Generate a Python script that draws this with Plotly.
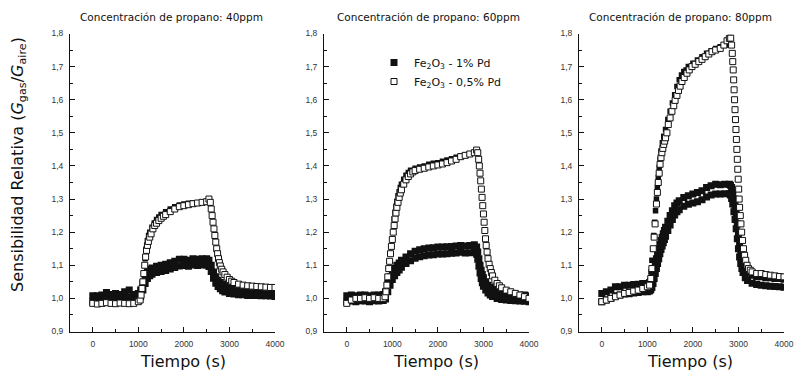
import plotly.graph_objects as go

# ---------------- data ----------------
# Panel 1: 40 ppm
t1_fill = [0,100,200,300,400,500,600,700,800,900,1000,1050,1100,1150,1200,1250,1300,1400,1500,1600,1700,1800,1900,2000,2100,2200,2300,2400,2500,2550,2600,2650,2700,2750,2800,2850,2900,3000,3100,3200,3300,3400,3500,3600,3700,3800,3900,4000]
p1_fill_hi = [1.008,1.008,1.010,1.018,1.012,1.015,1.012,1.020,1.025,1.012,1.015,1.025,1.045,1.065,1.080,1.088,1.092,1.097,1.100,1.103,1.108,1.112,1.118,1.118,1.115,1.120,1.118,1.120,1.120,1.115,1.100,1.080,1.065,1.055,1.048,1.042,1.037,1.033,1.032,1.030,1.030,1.028,1.028,1.028,1.027,1.027,1.026,1.025]
p1_fill_lo = [0.990,0.990,0.992,0.998,0.994,0.996,0.994,1.000,1.005,0.994,0.997,1.005,1.025,1.045,1.060,1.068,1.073,1.078,1.081,1.084,1.089,1.093,1.098,1.099,1.097,1.101,1.099,1.101,1.101,1.096,1.081,1.061,1.046,1.036,1.029,1.023,1.019,1.015,1.013,1.011,1.011,1.009,1.009,1.009,1.008,1.008,1.007,1.006]
t1_upper = [1150,1175,1200,1225,1250,1300,1350,1400,1450,1500,1600,1700,1800,1900,2000,2100,2200,2300,2400,2500]
p1_upper = [1.120,1.150,1.175,1.190,1.200,1.215,1.228,1.238,1.246,1.253,1.262,1.270,1.277,1.282,1.285,1.287,1.288,1.289,1.290,1.290]
t1_open = [0,100,200,300,400,500,600,700,800,900,1000,1040,1060,1080,1100,1120,1140,1160,1180,1200,1220,1250,1280,1320,1360,1400,1450,1500,1550,1600,1700,1800,1900,2000,2100,2200,2300,2400,2500,2550,2580,2600,2620,2640,2660,2680,2700,2720,2740,2760,2780,2800,2830,2860,2900,2950,3000,3050,3100,3200,3300,3400,3500,3600,3700,3800,3900,4000]
p1_open = [0.985,0.983,0.985,0.987,0.985,0.984,0.986,0.985,0.984,0.985,0.990,0.995,1.010,1.030,1.050,1.075,1.100,1.125,1.145,1.160,1.172,1.185,1.195,1.210,1.220,1.227,1.235,1.242,1.248,1.253,1.262,1.270,1.277,1.280,1.283,1.286,1.288,1.290,1.292,1.300,1.290,1.270,1.250,1.230,1.210,1.190,1.170,1.150,1.135,1.120,1.108,1.098,1.088,1.080,1.072,1.064,1.057,1.052,1.048,1.043,1.040,1.038,1.037,1.036,1.035,1.034,1.033,1.033]

# Panel 2: 60 ppm
t2_fill = [0,100,200,300,400,500,600,700,800,850,900,950,1000,1050,1100,1150,1200,1300,1400,1500,1600,1700,1800,1900,2000,2100,2200,2300,2400,2500,2600,2700,2800,2850,2875,2900,2925,2950,2975,3000,3050,3100,3150,3200,3300,3400,3500,3600,3700,3800,3900,4000]
p2_fill_hi = [1.008,1.010,1.008,1.010,1.010,1.008,1.010,1.010,1.012,1.020,1.045,1.065,1.080,1.090,1.100,1.107,1.115,1.125,1.135,1.142,1.147,1.150,1.152,1.153,1.155,1.155,1.156,1.157,1.158,1.160,1.158,1.160,1.162,1.155,1.140,1.120,1.100,1.085,1.072,1.062,1.050,1.040,1.033,1.028,1.020,1.017,1.015,1.013,1.012,1.010,1.010,1.008]
p2_fill_lo = [0.990,0.992,0.990,0.993,0.992,0.990,0.993,0.992,0.994,0.998,1.020,1.040,1.057,1.068,1.078,1.086,1.094,1.105,1.114,1.121,1.126,1.129,1.131,1.132,1.134,1.134,1.135,1.136,1.137,1.139,1.137,1.138,1.140,1.133,1.118,1.097,1.077,1.060,1.047,1.037,1.025,1.016,1.010,1.006,1.000,0.997,0.995,0.994,0.993,0.992,0.991,0.990]
t2_upper = [1040,1060,1080,1100,1125,1150,1175,1200,1250,1300,1350,1400,1500,1600,1700,1800,1900,2000,2100,2200,2300,2400,2500,2600,2700,2800]
p2_upper = [1.240,1.260,1.278,1.293,1.310,1.322,1.335,1.345,1.360,1.372,1.380,1.387,1.393,1.397,1.400,1.405,1.408,1.410,1.414,1.418,1.422,1.426,1.430,1.433,1.436,1.440]
t2_open = [0,100,200,300,400,500,600,700,800,840,860,880,900,920,940,960,980,1000,1020,1040,1060,1080,1100,1125,1150,1175,1200,1250,1300,1350,1400,1450,1500,1600,1700,1800,1900,2000,2100,2200,2300,2400,2500,2600,2700,2800,2850,2875,2895,2910,2925,2940,2955,2970,2985,3000,3015,3030,3045,3060,3080,3100,3125,3150,3175,3200,3250,3300,3350,3400,3500,3600,3700,3800,3900,4000]
p2_open = [0.985,0.995,1.000,1.000,1.002,1.000,1.002,1.000,1.000,1.005,1.020,1.040,1.065,1.090,1.112,1.135,1.157,1.178,1.200,1.220,1.240,1.258,1.275,1.290,1.305,1.318,1.328,1.345,1.358,1.368,1.376,1.382,1.386,1.390,1.393,1.397,1.400,1.403,1.406,1.410,1.415,1.420,1.428,1.432,1.436,1.440,1.448,1.440,1.420,1.400,1.378,1.355,1.330,1.305,1.280,1.255,1.230,1.205,1.180,1.160,1.140,1.120,1.103,1.090,1.078,1.068,1.055,1.045,1.038,1.032,1.025,1.020,1.015,1.010,1.005,1.000]

# Panel 3: 80 ppm
t3_fill = [0,100,200,300,400,500,600,700,800,900,1000,1050,1075,1100,1125,1150,1175,1200,1225,1250,1275,1300,1325,1350,1375,1400,1450,1500,1550,1600,1650,1700,1800,1900,2000,2100,2200,2300,2400,2500,2600,2700,2800,2825,2850,2875,2900,2925,2950,2975,3000,3025,3050,3075,3100,3150,3200,3300,3400,3500,3600,3700,3800,3900,4000]
p3_fill_hi = [1.015,1.020,1.025,1.035,1.035,1.040,1.040,1.042,1.043,1.045,1.045,1.048,1.052,1.060,1.075,1.090,1.105,1.120,1.135,1.150,1.163,1.175,1.185,1.195,1.205,1.215,1.233,1.250,1.265,1.280,1.288,1.295,1.305,1.310,1.315,1.320,1.325,1.335,1.340,1.345,1.343,1.345,1.345,1.342,1.335,1.320,1.300,1.280,1.255,1.225,1.195,1.165,1.140,1.122,1.110,1.090,1.080,1.070,1.065,1.065,1.062,1.062,1.060,1.060,1.058]
p3_fill_lo = [0.990,0.995,1.000,1.008,1.010,1.013,1.014,1.016,1.018,1.020,1.020,1.022,1.026,1.033,1.045,1.060,1.075,1.090,1.105,1.120,1.135,1.148,1.158,1.168,1.178,1.188,1.205,1.222,1.238,1.252,1.262,1.268,1.278,1.284,1.288,1.292,1.298,1.306,1.312,1.315,1.315,1.316,1.316,1.312,1.302,1.285,1.262,1.238,1.210,1.180,1.150,1.125,1.105,1.090,1.078,1.062,1.054,1.046,1.042,1.040,1.038,1.037,1.036,1.035,1.034]
t3_upper = [1060,1080,1100,1120,1140,1160,1180,1200,1220,1240,1260,1280,1300,1330,1360,1400,1450,1500,1550,1600,1650,1700,1750,1800,1850,1900,2000,2100,2200,2300,2400,2500,2600,2700,2750]
p3_upper = [1.050,1.080,1.115,1.150,1.190,1.230,1.265,1.300,1.335,1.365,1.395,1.420,1.445,1.470,1.490,1.510,1.540,1.565,1.590,1.615,1.640,1.660,1.675,1.685,1.690,1.700,1.710,1.720,1.730,1.740,1.748,1.755,1.760,1.765,1.765]
t3_open = [0,100,200,300,400,500,600,700,800,900,1000,1050,1075,1100,1130,1150,1170,1200,1220,1240,1260,1280,1300,1320,1340,1360,1380,1400,1430,1460,1500,1540,1580,1610,1650,1685,1720,1760,1810,1870,1920,1980,2050,2130,2200,2270,2350,2420,2500,2600,2680,2750,2800,2830,2850,2865,2875,2885,2895,2905,2915,2925,2935,2945,2955,2965,2975,2985,2995,3005,3015,3025,3040,3055,3070,3090,3110,3135,3160,3190,3220,3260,3300,3400,3500,3600,3700,3800,3900,4000]
p3_open = [0.990,0.995,1.000,1.005,1.010,1.015,1.018,1.022,1.025,1.030,1.035,1.040,1.060,1.090,1.150,1.185,1.225,1.285,1.320,1.350,1.378,1.405,1.425,1.440,1.453,1.465,1.475,1.485,1.500,1.525,1.545,1.565,1.582,1.598,1.613,1.628,1.641,1.655,1.667,1.680,1.690,1.700,1.707,1.715,1.722,1.730,1.738,1.745,1.750,1.755,1.765,1.778,1.785,1.786,1.765,1.740,1.715,1.690,1.660,1.630,1.600,1.570,1.540,1.510,1.480,1.450,1.420,1.390,1.360,1.330,1.300,1.275,1.250,1.225,1.200,1.175,1.150,1.130,1.115,1.100,1.090,1.085,1.080,1.075,1.075,1.072,1.070,1.068,1.066,1.065]

panel_titles = ["Concentración de propano: 40ppm",
                "Concentración de propano: 60ppm",
                "Concentración de propano: 80ppm"]
x_ticks = [0, 1000, 2000, 3000, 4000]
x_ticktext = ["0", "1000", "2000", "3000", "4000"]
x_minor = [500, 1500, 2500, 3500]
y_ticks = [0.9, 1.0, 1.1, 1.2, 1.3, 1.4, 1.5, 1.6, 1.7, 1.8]
y_ticktext = ["0,9", "1,0", "1,1", "1,2", "1,3", "1,4", "1,5", "1,6", "1,7", "1,8"]
y_minor = [0.95, 1.05, 1.15, 1.25, 1.35, 1.45, 1.55, 1.65, 1.75]
name_fill = "Fe<sub>2</sub>O<sub>3</sub> - 1% Pd"
name_open = "Fe<sub>2</sub>O<sub>3</sub> - 0,5% Pd"

panels = [
    (t1_fill, p1_fill_hi, p1_fill_lo, t1_upper, p1_upper, t1_open, p1_open),
    (t2_fill, p2_fill_hi, p2_fill_lo, t2_upper, p2_upper, t2_open, p2_open),
    (t3_fill, p3_fill_hi, p3_fill_lo, t3_upper, p3_upper, t3_open, p3_open),
]

# ---------------- figure ----------------
W, H = 803, 373
x_dom_px = [(70, 275), (324, 529), (579, 784)]
y_dom_px = (33.5, 331.5)
title_cx = [171, 428, 680]
xlab_cx = [183, 436, 690]

FILL = "#111111"
MS_FILL = 7
MS_OPEN = 6
fig = go.Figure()
for i, (tf, hi, lo, tu, up, to, op) in enumerate(panels):
    xa = "x" if i == 0 else f"x{i+1}"
    ya = "y" if i == 0 else f"y{i+1}"
    leg = (i == 1)
    fig.add_trace(go.Scatter(x=tf, y=hi, xaxis=xa, yaxis=ya, mode="markers",
                             marker=dict(symbol="square", size=MS_FILL, color=FILL, line=dict(width=0)),
                             name=name_fill, showlegend=leg))
    fig.add_trace(go.Scatter(x=tf, y=lo, xaxis=xa, yaxis=ya, mode="markers",
                             marker=dict(symbol="square", size=MS_FILL, color=FILL, line=dict(width=0)),
                             showlegend=False))
    fig.add_trace(go.Scatter(x=tu, y=up, xaxis=xa, yaxis=ya, mode="markers",
                             marker=dict(symbol="square", size=5.5, color=FILL, line=dict(width=0)),
                             showlegend=False))
    fig.add_trace(go.Scatter(x=to, y=op, xaxis=xa, yaxis=ya, mode="markers",
                             marker=dict(symbol="square", size=MS_OPEN, color="white",
                                         line=dict(width=1, color="#111111")),
                             name=name_open, showlegend=leg))

tickfont = dict(family="Liberation Sans, Arial, sans-serif", size=8.5, color="#333333")
axis_common = dict(showline=True, linecolor="#111111", linewidth=1, mirror=False,
                   ticks="inside", ticklen=5, tickwidth=1, tickcolor="#111111",
                   showgrid=False, zeroline=False, tickfont=tickfont, automargin=False,
                   ticklabelstandoff=4)
for i in range(3):
    xk = "xaxis" if i == 0 else f"xaxis{i+1}"
    yk = "yaxis" if i == 0 else f"yaxis{i+1}"
    x0, x1 = x_dom_px[i]
    fig.layout[xk] = dict(domain=[x0 / W, x1 / W], range=[-500, 4000],
                          anchor="y" if i == 0 else f"y{i+1}",
                          tickmode="array", tickvals=x_ticks, ticktext=x_ticktext,
                          minor=dict(tickmode="array", tickvals=x_minor, ticks="inside",
                                     ticklen=3, tickcolor="#111111"),
                          **axis_common)
    fig.layout[yk] = dict(domain=[1 - y_dom_px[1] / H, 1 - y_dom_px[0] / H], range=[0.9, 1.8],
                          anchor="x" if i == 0 else f"x{i+1}",
                          tickmode="array", tickvals=y_ticks, ticktext=y_ticktext,
                          minor=dict(tickmode="array", tickvals=y_minor, ticks="inside",
                                     ticklen=3, tickcolor="#111111"),
                          **axis_common)

TXT = "DejaVu Sans, sans-serif"
ann = []
for i in range(3):
    ann.append(dict(text=panel_titles[i], x=title_cx[i] / W, y=1 - 17 / H, xref="paper", yref="paper",
                    xanchor="center", yanchor="middle", showarrow=False,
                    font=dict(family=TXT, size=10.5, color="#111111")))
    ann.append(dict(text="Tiempo (s)", x=xlab_cx[i] / W, y=1 - 361 / H, xref="paper", yref="paper",
                    xanchor="center", yanchor="middle", showarrow=False,
                    font=dict(family=TXT, size=16, color="#111111")))
ann.append(dict(text="Sensibilidad Relativa (<i>G</i><sub>gas</sub>/<i>G</i><sub>aire</sub>)",
                x=18 / W, y=1 - 165 / H, xref="paper", yref="paper", textangle=-90,
                xanchor="center", yanchor="middle", showarrow=False,
                font=dict(family=TXT, size=16, color="#111111")))

fig.update_layout(
    width=W, height=H, margin=dict(l=0, r=0, t=0, b=0),
    paper_bgcolor="white", plot_bgcolor="white",
    annotations=ann,
    showlegend=True,
    legend=dict(x=374 / W, y=1 - 48 / H, xanchor="left", yanchor="top",
                bgcolor="rgba(0,0,0,0)", itemwidth=30, traceorder="normal",
                font=dict(family=TXT, size=11, color="#111111")),
)

fig.write_html("out.html")
